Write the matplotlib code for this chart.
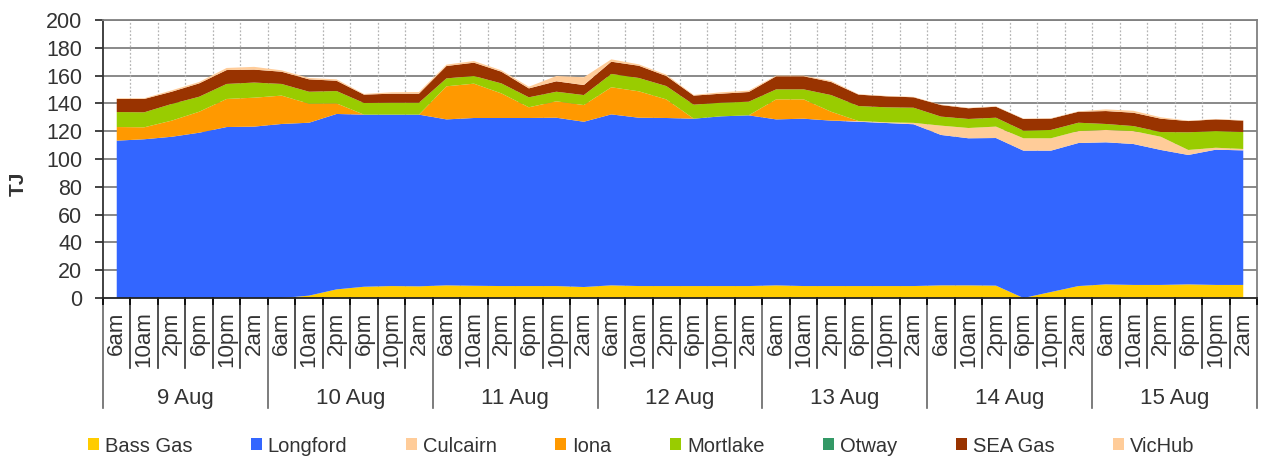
import numpy as np
import matplotlib
matplotlib.use("Agg")
import matplotlib.pyplot as plt
import matplotlib.transforms as mtransforms
from matplotlib.patches import Patch

plt.rcParams['font.family'] = ['Liberation Sans', 'DejaVu Sans']

days = ["9 Aug", "10 Aug", "11 Aug", "12 Aug", "13 Aug", "14 Aug", "15 Aug"]
times = ["6am", "10am", "2pm", "6pm", "10pm", "2am"]

# TJ per 4-hour interval (bottom to top of the stack)
bass_gas = [0, 0, 0, 0, 0, 0,
            0, 1.7, 6.2, 8.1, 8.6, 8.4,
            9.1, 8.8, 8.6, 8.6, 8.6, 7.9,
            9.1, 8.6, 8.6, 8.6, 8.6, 8.6,
            9.1, 8.6, 8.6, 8.6, 8.6, 8.6,
            9.1, 9.1, 8.9, 0, 4.3, 8.6,
            9.8, 9.4, 9.4, 9.8, 9.4, 9.4]
longford = [113.2, 114.2, 116, 118.9, 123, 123.3,
            125.2, 124.4, 126.2, 123.8, 123.3, 123.5,
            119.4, 120.7, 120.9, 120.9, 121.1, 118.9,
            123, 121.1, 120.9, 120.4, 122.1, 122.8,
            119.4, 120.4, 119, 118.2, 117.3, 116.4,
            108.2, 105.8, 106.2, 106, 101.7, 102.9,
            102.2, 101.4, 97.1, 93.1, 97.3, 96.8]
culcairn = [0, 0, 0, 0, 0, 0,
            0, 0, 0, 0, 0, 0,
            0, 0, 0, 0, 0, 0,
            0, 0, 0, 0, 0, 0,
            0, 0, 0, 0.5, 0.5, 1,
            6.7, 7.4, 8.2, 8.9, 8.9, 8.6,
            8.9, 9.3, 9.5, 3.6, 1.4, 1]
iona = [9.8, 8.6, 11.6, 15.1, 20.2, 20.8,
        20.4, 13.7, 7.6, 0, 0, 0,
        23.8, 24.7, 17.7, 7.7, 11.8, 12,
        19.5, 19, 13.4, 0, 0, 0,
        14.4, 13.9, 6.4, 0, 0, 0,
        0, 0, 0, 0, 0, 0,
        0, 0, 0, 0, 0, 0]
mortlake = [10.8, 10.8, 12, 10.8, 10.8, 10.9,
            8.4, 8.6, 8.9, 8.4, 8.6, 8.6,
            5.7, 5.5, 7.2, 7.2, 6.9, 7.2,
            9.6, 9.6, 9.6, 10.1, 9.8, 9.8,
            7.2, 7.2, 12, 10.8, 10.8, 10.9,
            6.5, 6.5, 6.4, 5.5, 6, 6,
            4.3, 3.6, 3.4, 12.7, 12, 12.2]
otway = [0] * 42
sea_gas = [9.4, 9.6, 8.8, 9.6, 10, 9.3,
           8.8, 8.9, 7.4, 6, 6.5, 6.5,
           8.9, 9.6, 8.4, 6.4, 7.5, 7.2,
           8.8, 8.8, 7.2, 6.5, 6.5, 7,
           9.4, 9.4, 9.4, 8.2, 7.9, 7.5,
           8.3, 7.7, 7.9, 8.4, 8.1, 7.9,
           9.3, 9.6, 9.6, 8.1, 8.4, 8.2]
vichub = [0.5, 0.5, 1, 1, 1.5, 2,
          1, 1, 1, 0.5, 1, 1.2,
          1, 1.2, 1, 1.2, 3.8, 5.6,
          1.7, 1, 1, 0.5, 1, 1,
          0.5, 0.5, 0.8, 0.3, 0.3, 0.3,
          0.3, 0.3, 0.3, 0.3, 0.3, 0.3,
          1.2, 1.4, 1, 0.3, 0.3, 0.3]

names = ["Bass Gas", "Longford", "Culcairn", "Iona", "Mortlake", "Otway", "SEA Gas", "VicHub"]
colors = ["#FFCC00", "#3366FF", "#FFCC99", "#FF9900", "#99CC00", "#339966", "#993300", "#FFCC99"]
series = [bass_gas, longford, culcairn, iona, mortlake, otway, sea_gas, vichub]

txt = "#333333"

fig = plt.figure(figsize=(12.63, 4.57), dpi=100)
ax = fig.add_axes([103 / 1263, 1 - 298 / 457, (1257 - 103) / 1263, 278 / 457])

n = len(days) * len(times)
x = np.arange(n)
ax.stackplot(x, *series, colors=colors, linewidth=0)

ax.set_xlim(-0.5, n - 0.5)
ax.set_ylim(0, 200)
ax.set_yticks(np.arange(0, 201, 20))
ax.tick_params(axis='y', direction='out', length=6, width=1.2, color='#222222',
               labelsize=15.5, labelcolor=txt, pad=9)
ax.set_ylabel("TJ", fontsize=15, fontweight='bold', color=txt)
ax.yaxis.set_label_coords(-0.065, 0.41)

# gridlines
ax.set_axisbelow(True)
for yv in np.arange(20, 201, 20):
    ax.axhline(yv, color='#808080', lw=1.3, zorder=0)
for xv in np.arange(0.5, n - 0.5, 1):
    ax.axvline(xv, color='#b5b5b5', lw=0.9, ls=(0, (1.5, 1.5)), zorder=0)

ax.set_xticks([])
for side in ['top', 'right']:
    ax.spines[side].set_color('#808080')
    ax.spines[side].set_linewidth(1.3)
ax.spines['left'].set_color('#333333')
ax.spines['left'].set_linewidth(1.3)
ax.spines['bottom'].set_color('#222222')
ax.spines['bottom'].set_linewidth(1.3)

# two-level category axis
trans = mtransforms.blended_transform_factory(ax.transData, ax.transAxes)
for i in range(n):
    ax.text(i, -0.048, times[i % len(times)], transform=trans, rotation=90,
            ha='center', va='top', fontsize=16, color=txt)
for k in range(n + 1):
    b = k - 0.5
    if k % len(times) == 0:
        ax.plot([b, b], [0, -0.396], transform=trans, color='#666666', lw=1.2, clip_on=False)
    else:
        ax.plot([b, b], [0, -0.252], transform=trans, color='#333333', lw=1.2, clip_on=False)
    ax.plot([b, b], [0, -0.02], transform=trans, color='#111111', lw=1.4, clip_on=False)
for d, day in enumerate(days):
    c = d * len(times) + (len(times) - 1) / 2
    ax.text(c, -0.36, day, transform=trans, ha='center', va='center', fontsize=16, color=txt)

handles = [Patch(facecolor=c, edgecolor='none') for c in colors]
leg = fig.legend(handles, names, loc='center', bbox_to_anchor=(641 / 1263, 1 - 446 / 457),
                 ncol=8, frameon=False, fontsize=14.5, handlelength=0.55, handleheight=0.55,
                 handletextpad=0.3, columnspacing=2.9, borderaxespad=0)
for t in leg.get_texts():
    t.set_color(txt)

fig.savefig("out.png", dpi=100)
